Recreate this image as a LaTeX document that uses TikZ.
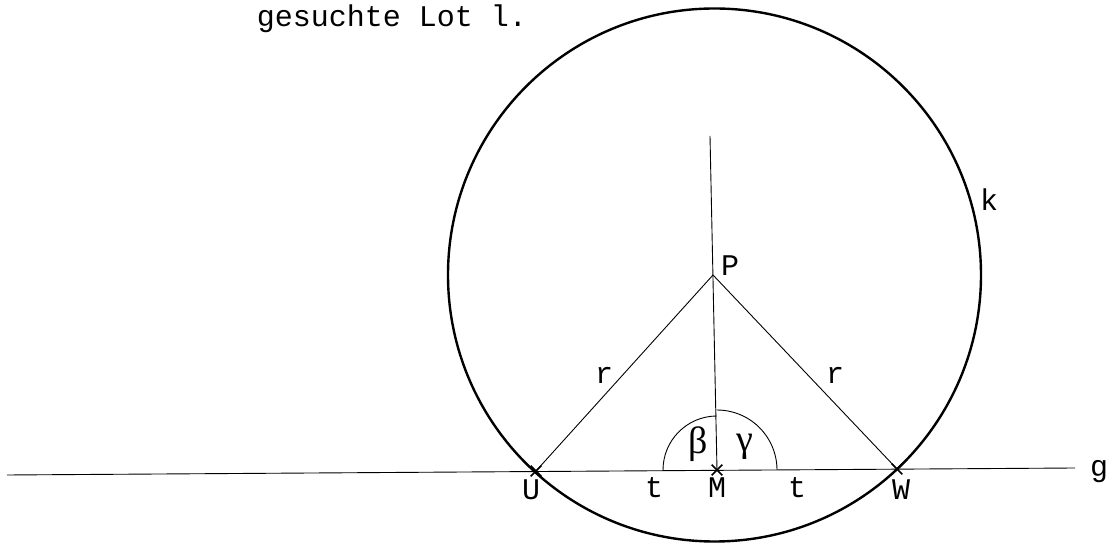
\documentclass[tikz,border=0pt]{standalone}
\usepackage{fontspec}
\setmainfont{Liberation Mono}
\newfontfamily\greekfont{Liberation Serif}
\usetikzlibrary{shapes.misc,calc}

\begin{document}
\begin{tikzpicture}[
    x=1pt, y=1pt,
    label/.style={font=\fontsize{30}{36}\selectfont, inner sep=0pt, anchor=base},
    greek/.style={font=\greekfont\fontsize{38}{44}\selectfont, inner sep=0pt, anchor=base},
    point/.style={cross out, draw, line width=1.6pt, minimum size=9pt, inner sep=0pt},
    thinline/.style={line width=0.9pt},
    circleline/.style={line width=2.4pt}
]
\useasboundingbox (0,0) rectangle (1109,543);

% Header
\node[label] (header) at (392,516) {gesuchte Lot l.};

% Points
\coordinate (C) at (714.5,268);
\coordinate (P) at (713,268);
\coordinate (top) at (710,407);
\coordinate (gL) at (7,68);
\coordinate (gR) at (1075,75);
\node[point] (U) at (536,72) {};
\node[point] (M) at (717,73) {};
\node[point] (W) at (897,74) {};

% Circle k and line g
\draw[circleline] (C) circle (266.5);
\draw[thinline] (gL) -- (gR);

% Lines
\draw[thinline] (U.center) -- (P);
\draw[thinline] (W.center) -- (P);
\draw[thinline] (M.center) -- (top);

% Angles
\draw[thinline] ([shift={(180.4:54)}]M.center) arc (180.4:90.5:54);
\draw[thinline] ([shift={(90.5:60)}]M.center) arc (90.5:0.4:60);

% Labels
\node[label] (labP) at (730,267) {P};
\node[label] (labR1) at (604,159) {r};
\node[label] (labR2) at (835,159) {r};
\node[label] (labU) at (531,43) {U};
\node[label] (labM) at (717,45) {M};
\node[label] (labW) at (901,43) {W};
\node[label] (labT1) at (654,45) {t};
\node[label] (labT2) at (797,45) {t};
\node[label] (labK) at (989,332) {k};
\node[label] (labG) at (1099,66) {g};
\node[greek] (beta) at (698,89) {β};
\node[greek] (gamma) at (745,91) {γ};

\end{tikzpicture}
\end{document}
